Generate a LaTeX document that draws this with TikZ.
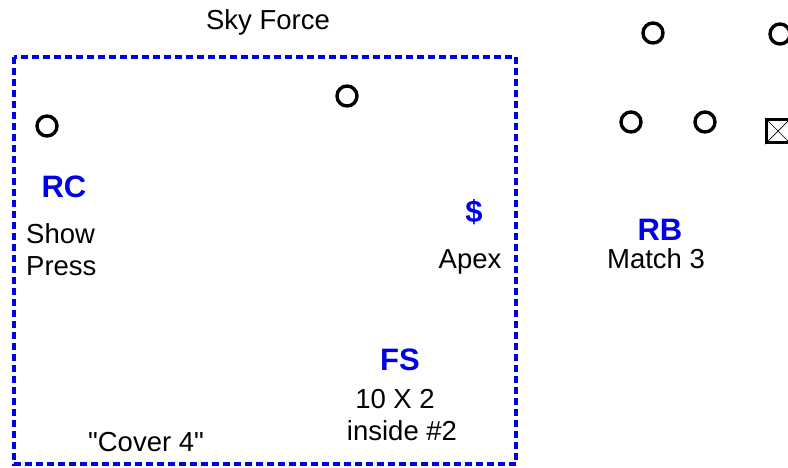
\documentclass[tikz,border=0pt]{standalone}
\usepackage{fontspec}
\setmainfont{Liberation Sans}[Ligatures=TeXOff]
\definecolor{zoneblue}{RGB}{0,0,230}
\begin{document}
\begin{tikzpicture}[x=1pt,y=-1pt,
  player/.style={circle,draw=black,line width=3.4pt,minimum size=20pt,inner sep=0pt},
  plain/.style={font=\fontsize{27.5}{32}\selectfont,inner sep=0pt,anchor=base},
  role/.style={font=\fontsize{31}{36}\selectfont\bfseries,text=zoneblue,inner sep=0pt,anchor=base},
  zone/.style={draw=zoneblue,line width=3.2pt,dash pattern=on 7pt off 4pt}]
\useasboundingbox (0,0) rectangle (788,467);
% coverage zone
\draw[zone] (14,57) rectangle (516,464);
% title
\node[plain] (title) at (268,29) {Sky Force};
% defenders and receivers
\node[player] (p1) at (47,126) {};
\node[player] (p2) at (347,96) {};
\node[player] (p3) at (653,33) {};
\node[player] (p4) at (780,34) {};
\node[player] (p5) at (631,122) {};
\node[player] (p6) at (705,122) {};
% center (boxed X)
\node[draw=black,line width=3.4pt,minimum size=23pt,inner sep=0pt] (ctr) at (778,131) {};
\draw[line width=0.7pt] (ctr.north west) -- (ctr.south east) (ctr.south west) -- (ctr.north east);
% labels
\node[role] (rc) at (64,197) {RC};
\node[plain,anchor=base west] (show) at (26,243) {Show};
\node[plain,anchor=base west] (press) at (26,275) {Press};
\node[role] (safety) at (474,222) {\$};
\node[plain] (apex) at (470,268) {Apex};
\node[role] (rb) at (660,240) {RB};
\node[plain] (match) at (656,268) {Match 3};
\node[role] (fs) at (400,370) {FS};
\node[plain] (ten) at (395,408) {10 X 2};
\node[plain] (inside) at (402,440) {inside \#2};
\node[plain] (cover) at (146,451) {"Cover 4"};
\end{tikzpicture}
\end{document}
